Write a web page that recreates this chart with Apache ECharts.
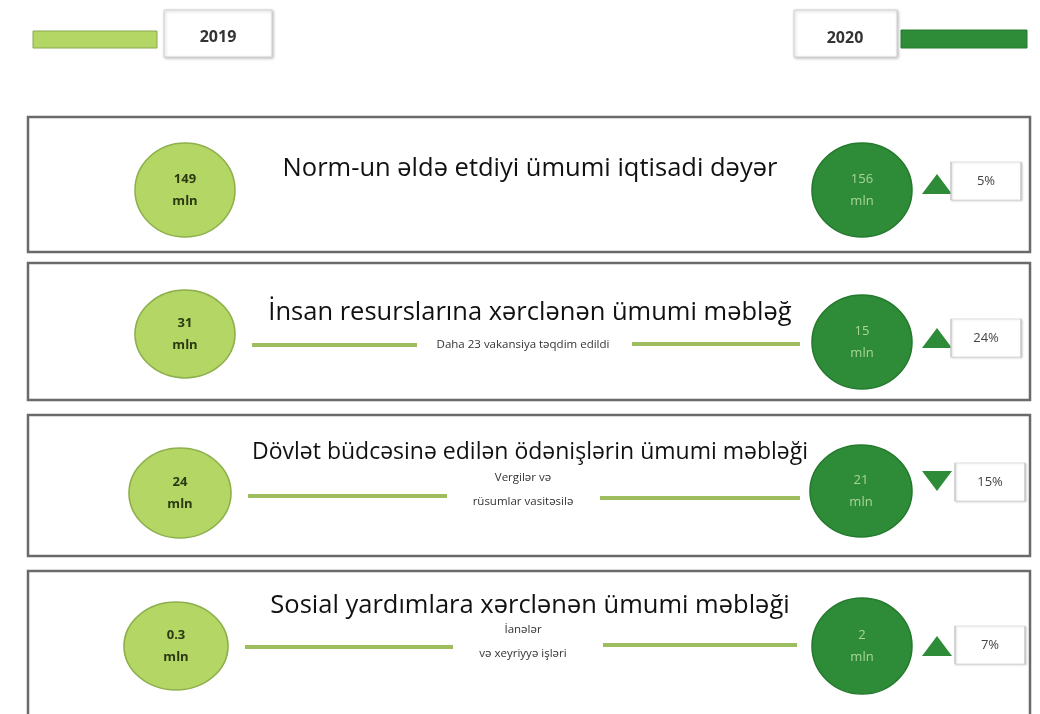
<!DOCTYPE html>
<html>
<head>
<meta charset="utf-8">
<script src="https://cdn.jsdelivr.net/npm/echarts@6/dist/echarts.min.js"></script>
<style>
  html, body { margin: 0; padding: 0; background: #fff; }
  #main { width: 1040px; height: 714px; }
</style>
</head>
<body>
<div id="main"></div>
<script>
// data
const years = ['2019', '2020'];
const titles = [
  'Norm-un əldə etdiyi ümumi iqtisadi dəyər',
  'İnsan resurslarına xərclənən ümumi məbləğ',
  'Dövlət büdcəsinə edilən ödənişlərin ümumi məbləği',
  'Sosial yardımlara xərclənən ümumi məbləği'
];
const notes = ['', 'Daha 23 vakansiya təqdim edildi', 'Vergilər və\nrüsumlar vasitəsilə', 'İanələr\nvə xeyriyyə işləri'];
const values2019 = ['149', '31', '24', '0.3'];
const values2020 = ['156', '15', '21', '2'];
const changes = ['5%', '24%', '15%', '7%'];
const directions = ['up', 'up', 'down', 'up'];
const unit = 'mln';

// layout (pixel space)
const panels = [[28, 117, 1002, 135], [28, 263, 1002, 137], [28, 415, 1002, 141], [28, 571, 1002, 160]];
const leftX = [185, 185, 180, 176];
const leftY = [190, 334, 493, 646];
const rightX = [862, 862, 861, 862];
const rightY = [190, 342, 491, 646];
const leftSize = [[100, 94], [100, 88], [102, 90], [104, 88]];
const rightSize = [[100, 94], [100, 94], [102, 92], [100, 96]];
const titleY = [169, 313, 452, 606];
const titleSize = [25.5, 25.5, 23, 25.5];
const noteY = [0, 345, 490, 642];
const arrowY = [184, 338, 481, 646];
const boxX = [986, 986, 990, 990];
const boxY = [181, 338, 482, 645];
const connectors = [
  null,
  [[252, 345], [417, 345], [632, 344], [800, 344]],
  [[248, 496], [447, 496], [600, 498], [800, 498]],
  [[245, 647], [453, 647], [603, 645], [797, 645]]
];

const light = '#b3d665';
const dark = '#2e8b37';

const chart = echarts.init(document.getElementById('main'));

const graphics = [];
panels.forEach(p => {
  graphics.push({
    type: 'rect', shape: { x: p[0], y: p[1], width: p[2], height: p[3] },
    style: { fill: '#fff', stroke: '#6a6a6a', lineWidth: 2.5 }, z: -1
  });
});
// legend boxes
graphics.push(
  { type: 'rect', shape: { x: 33, y: 31, width: 124, height: 17 }, style: { fill: light, stroke: '#8aa84e', lineWidth: 1 } },
  { type: 'rect', shape: { x: 164, y: 10, width: 108, height: 47 }, style: { fill: '#fff', stroke: '#d2d2d2', lineWidth: 1, shadowColor: 'rgba(0,0,0,0.25)', shadowBlur: 3, shadowOffsetX: 1, shadowOffsetY: 1 } },
  { type: 'text', x: 218, y: 37, style: { text: years[0], fill: '#333', font: 'bold 16px "Open Sans"', textAlign: 'center', textVerticalAlign: 'middle' } },
  { type: 'rect', shape: { x: 794, y: 10, width: 103, height: 47 }, style: { fill: '#fff', stroke: '#d2d2d2', lineWidth: 1, shadowColor: 'rgba(0,0,0,0.25)', shadowBlur: 3, shadowOffsetX: 1, shadowOffsetY: 1 } },
  { type: 'text', x: 845, y: 38, style: { text: years[1], fill: '#333', font: 'bold 16px "Open Sans"', textAlign: 'center', textVerticalAlign: 'middle' } },
  { type: 'rect', shape: { x: 901, y: 30, width: 126, height: 18 }, style: { fill: dark, stroke: '#267a2e', lineWidth: 1 } }
);
titles.forEach((t, i) => {
  graphics.push({
    type: 'text', x: 530, y: titleY[i],
    style: { text: t, fill: '#111', font: titleSize[i] + 'px "Open Sans"', textAlign: 'center', textVerticalAlign: 'middle' }
  });
  if (notes[i]) {
    graphics.push({
      type: 'text', x: 523, y: noteY[i],
      style: { text: notes[i], fill: '#333', font: '11.5px "Open Sans"', textAlign: 'center', textVerticalAlign: 'middle', lineHeight: 24 }
    });
  }
});

const lineData = [];
connectors.forEach(c => {
  if (!c) return;
  lineData.push({ coords: [c[0], c[1]] }, { coords: [c[2], c[3]] });
});

chart.setOption({
  animation: false,
  grid: { left: 0, right: 0, top: 0, bottom: 0 },
  xAxis: { type: 'value', min: 0, max: 1040, show: false },
  yAxis: { type: 'value', min: 0, max: 714, inverse: true, show: false },
  graphic: graphics,
  series: [
    {
      type: 'lines', coordinateSystem: 'cartesian2d', z: 2,
      lineStyle: { color: '#9dbd5e', width: 4, opacity: 1 },
      data: lineData
    },
    {
      name: years[0], type: 'scatter', symbol: 'circle', z: 3,
      itemStyle: { color: light, borderColor: '#8db04c', borderWidth: 1.5, opacity: 1 },
      label: { show: true, position: 'inside', color: '#2b3a12', fontSize: 13, fontWeight: 'bold', lineHeight: 22, fontFamily: 'Open Sans' },
      data: values2019.map((v, i) => ({ value: [leftX[i], leftY[i]], symbolSize: leftSize[i], label: { formatter: v + '\n' + unit } }))
    },
    {
      name: years[1], type: 'scatter', symbol: 'circle', z: 3,
      itemStyle: { color: dark, borderColor: '#237a2c', borderWidth: 1.5, opacity: 1 },
      label: { show: true, position: 'inside', color: '#a9d59a', fontSize: 13, lineHeight: 22, fontFamily: 'Open Sans' },
      data: values2020.map((v, i) => ({ value: [rightX[i], rightY[i]], symbolSize: rightSize[i], label: { formatter: v + '\n' + unit } }))
    },
    {
      type: 'scatter', symbol: 'triangle', z: 3,
      itemStyle: { color: dark, opacity: 1 },
      data: directions.map((d, i) => ({ value: [937, arrowY[i]], symbolSize: [30, 20], symbolRotate: d === 'up' ? 0 : 180 }))
    },
    {
      type: 'scatter', symbol: 'rect', z: 3,
      itemStyle: { color: '#fff', borderColor: '#c4c4c4', borderWidth: 1, opacity: 1, shadowColor: 'rgba(0,0,0,0.15)', shadowBlur: 2, shadowOffsetX: 1, shadowOffsetY: 1 },
      label: { show: true, position: 'inside', color: '#444', fontSize: 13, fontFamily: 'Open Sans' },
      data: changes.map((c, i) => ({ value: [boxX[i], boxY[i]], symbolSize: [70, 38], label: { formatter: c } }))
    }
  ]
});
</script>
</body>
</html>
